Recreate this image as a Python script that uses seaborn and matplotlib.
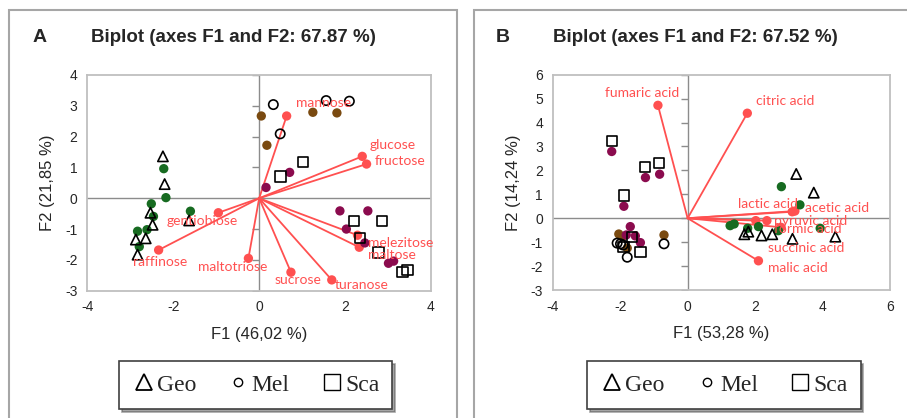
import numpy as np
import pandas as pd
import matplotlib
matplotlib.use('Agg')
import matplotlib.pyplot as plt
import seaborn as sns
from matplotlib.lines import Line2D
from matplotlib.patches import Rectangle

# ---- panel A : sugars ----
sugars = ['mannose', 'glucose', 'fructose', 'gentiobiose', 'raffinose',
          'maltotriose', 'sucrose', 'turanose', 'melezitose', 'maltose']
sugar_f1 = [0.64, 2.40, 2.50, -0.95, -2.34, -0.25, 0.74, 1.69, 2.29, 2.33]
sugar_f2 = [2.67, 1.36, 1.11, -0.47, -1.68, -1.95, -2.40, -2.65, -1.20, -1.59]

a_geo_f1 = [-2.22, -2.17, -2.51, -2.46, -2.61, -2.83, -2.79, -1.60]
a_geo_f2 = [0.96, 0.02, -0.18, -0.59, -1.02, -1.07, -1.57, -0.42]
a_geo_c_f1 = [-2.24, -2.20, -2.53, -2.48, -2.64, -2.87, -2.83, -1.63]
a_geo_c_f2 = [1.36, 0.46, -0.47, -0.86, -1.30, -1.34, -1.83, -0.72]
a_mel_f1 = [0.05, 0.18, 1.25, 1.81]
a_mel_f2 = [2.67, 1.72, 2.79, 2.77]
a_mel_c_f1 = [0.33, 0.49, 1.56, 2.10]
a_mel_c_f2 = [3.04, 2.09, 3.17, 3.15]
a_sca_f1 = [0.16, 0.71, 1.88, 2.53, 2.03, 2.46, 3.01, 3.13]
a_sca_f2 = [0.35, 0.84, -0.41, -0.41, -1.00, -1.45, -2.11, -2.04]
a_sca_c_f1 = [0.50, 1.02, 2.20, 2.86, 2.35, 2.78, 3.34, 3.45]
a_sca_c_f2 = [0.71, 1.18, -0.73, -0.73, -1.29, -1.76, -2.40, -2.32]

# ---- panel B : organic acids ----
acids = ['fumaric acid', 'citric acid', 'lactic acid', 'acetic acid',
         'pyruvic acid', 'formic acid', 'succinic acid', 'malic acid']
acid_f1 = [-0.88, 1.77, 3.10, 3.18, 2.35, 2.77, 2.02, 2.10]
acid_f2 = [4.72, 4.39, 0.27, 0.30, -0.10, -0.38, -0.10, -1.78]

b_geo_f1 = [2.78, 3.33, 1.26, 1.38, 2.10, 2.69, 3.93, 1.78]
b_geo_f2 = [1.32, 0.56, -0.31, -0.24, -0.35, -0.52, -0.42, -0.42]
b_geo_c_f1 = [3.22, 3.74, 1.68, 1.80, 2.19, 2.51, 3.11, 4.38]
b_geo_c_f2 = [1.85, 1.07, -0.67, -0.56, -0.72, -0.67, -0.86, -0.77]
b_mel_f1 = [-2.04, -1.94, -1.79, -0.70]
b_mel_f2 = [-0.66, -0.77, -1.25, -0.70]
b_mel_c_f1 = [-2.09, -1.99, -1.91, -1.79, -0.70]
b_mel_c_f2 = [-1.04, -1.07, -1.12, -1.63, -1.07]
b_sca_f1 = [-2.25, -1.89, -1.25, -0.83, -1.70, -1.55, -1.40, -1.82]
b_sca_f2 = [2.79, 0.50, 1.70, 1.84, -0.35, -0.74, -1.02, -0.70]
b_sca_c_f1 = [-2.25, -1.89, -1.26, -0.84, -1.65, -1.90, -1.40]
b_sca_c_f2 = [3.23, 0.95, 2.14, 2.30, -0.79, -1.19, -1.42]

# label anchors (left edge, vertical centre)
sugar_lab = {'mannose': (0.85, 3.08), 'glucose': (2.58, 1.74), 'fructose': (2.70, 1.22),
             'gentiobiose': (-2.15, -0.74), 'raffinose': (-2.94, -2.07),
             'maltotriose': (-1.43, -2.22), 'sucrose': (0.35, -2.66),
             'turanose': (1.75, -2.83), 'melezitose': (2.53, -1.45), 'maltose': (2.53, -1.85)}
acid_lab = {'fumaric acid': (-2.46, 5.25), 'citric acid': (2.02, 4.90),
            'lactic acid': (1.48, 0.60), 'acetic acid': (3.49, 0.43),
            'pyruvic acid': (2.57, -0.10), 'formic acid': (2.57, -0.43),
            'succinic acid': (2.37, -1.25), 'malic acid': (2.37, -2.10)}

RED = '#ff5050'
GREEN = '#176b21'
BROWN = '#7a4a10'
MAROON = '#8b0b4e'
GRAY = '#8c8c8c'

sns.set_style('white')
plt.rcParams['font.family'] = ['Liberation Sans', 'DejaVu Sans']
plt.rcParams['axes.unicode_minus'] = False


def obs_frame(parts):
    rows = []
    for kind, f1, f2 in parts:
        rows.append(pd.DataFrame({'F1': f1, 'F2': f2, 'kind': kind}))
    return pd.concat(rows, ignore_index=True)


def biplot(ax, obs, names, vf1, vf2, labels, xlim, ylim, xticks, yticks):
    ax.set_xlim(*xlim)
    ax.set_ylim(*ylim)
    ax.axhline(0, color=GRAY, lw=1, zorder=1)
    ax.axvline(0, color=GRAY, lw=1, zorder=1)
    ax.plot(np.zeros(len(yticks)), yticks, ls='', marker=0, ms=5, mew=1,
            color=GRAY, zorder=1)
    for x, y in zip(vf1, vf2):
        ax.plot([0, x], [0, y], color=RED, lw=1.3, zorder=2)
    sns.scatterplot(x=vf1, y=vf2, color=RED, s=45, edgecolor='none', ax=ax, zorder=3)
    for n in names:
        lx, ly = labels[n]
        ax.text(lx, ly, n, color=RED, fontsize=10, family='Lato',
                ha='left', va='center', zorder=5)

    fills = {'geo': GREEN, 'mel': BROWN, 'sca': MAROON}
    opens = {'geo_c': '^', 'mel_c': 'o', 'sca_c': 's'}
    for k, c in fills.items():
        d = obs[obs.kind == k]
        sns.scatterplot(data=d, x='F1', y='F2', color=c, s=45, edgecolor='none',
                        ax=ax, zorder=4)
    for k, m in opens.items():
        d = obs[obs.kind == k]
        sns.scatterplot(data=d, x='F1', y='F2', marker=m, s=55 if m != 'o' else 45,
                        facecolor='none', edgecolor='black', linewidth=1.2,
                        ax=ax, zorder=4)

    ax.set_xticks(xticks)
    ax.set_yticks(yticks)
    ax.tick_params(length=0, labelsize=10, pad=7)
    for s in ax.spines.values():
        s.set_color('#bfbfbf')
        s.set_linewidth(1.3)


fig = plt.figure(figsize=(9.07, 4.18), dpi=100)

# panel frames
for x0, x1 in [(9, 457), (474, 920)]:
    fig.add_artist(Rectangle((x0 / 907, -0.1), (x1 - x0) / 907, 1.1 - 10 / 418,
                             transform=fig.transFigure, fill=False,
                             edgecolor='#a6a6a6', lw=1.5))

axA = fig.add_axes([87.3 / 907, 1 - 290.7 / 418, (431 - 87.3) / 907, 215.7 / 418])
axB = fig.add_axes([552.7 / 907, 1 - 290 / 418, (890 - 552.7) / 907, 215.3 / 418])

obsA = obs_frame([('geo', a_geo_f1, a_geo_f2), ('geo_c', a_geo_c_f1, a_geo_c_f2),
                  ('mel', a_mel_f1, a_mel_f2), ('mel_c', a_mel_c_f1, a_mel_c_f2),
                  ('sca', a_sca_f1, a_sca_f2), ('sca_c', a_sca_c_f1, a_sca_c_f2)])
obsB = obs_frame([('geo', b_geo_f1, b_geo_f2), ('geo_c', b_geo_c_f1, b_geo_c_f2),
                  ('mel', b_mel_f1, b_mel_f2), ('mel_c', b_mel_c_f1, b_mel_c_f2),
                  ('sca', b_sca_f1, b_sca_f2), ('sca_c', b_sca_c_f1, b_sca_c_f2)])

biplot(axA, obsA, sugars, sugar_f1, sugar_f2, sugar_lab, (-4, 4), (-3, 4),
       [-4, -2, 0, 2, 4], [-3, -2, -1, 0, 1, 2, 3, 4])
biplot(axB, obsB, acids, acid_f1, acid_f2, acid_lab, (-4, 6), (-3, 6),
       [-4, -2, 0, 2, 4, 6], [-3, -2, -1, 0, 1, 2, 3, 4, 5, 6])

axA.set_xlabel('F1 (46,02 %)', fontsize=12, labelpad=9)
axA.set_ylabel('F2 (21,85 %)', fontsize=12, labelpad=7)
axB.set_xlabel('F1 (53,28 %)', fontsize=12, labelpad=9)
axB.set_ylabel('F2 (14,24 %)', fontsize=12, labelpad=7)

fig.text(40 / 907, 1 - 38 / 418, 'A', fontsize=14, fontweight='bold', va='center', ha='center')
fig.text(233 / 907, 1 - 38 / 418, 'Biplot (axes F1 and F2: 67.87 %)', fontsize=13.5,
         fontweight='bold', va='center', ha='center')
fig.text(503 / 907, 1 - 38 / 418, 'B', fontsize=14, fontweight='bold', va='center', ha='center')
fig.text(695 / 907, 1 - 38 / 418, 'Biplot (axes F1 and F2: 67.52 %)', fontsize=13.5,
         fontweight='bold', va='center', ha='center')

handles = [Line2D([], [], ls='', marker='^', mfc='none', mec='black', ms=12, mew=1.3),
           Line2D([], [], ls='', marker='o', mfc='none', mec='black', ms=6, mew=1),
           Line2D([], [], ls='', marker='s', mfc='none', mec='black', ms=11, mew=1)]
for cx in (255.5 / 907, 724 / 907):
    leg = fig.legend(handles, ['Geo', 'Mel', 'Sca'], loc='center',
                     bbox_to_anchor=(cx, 1 - 385 / 418), ncol=3, frameon=True,
                     fancybox=False, shadow=True, edgecolor='#404040',
                     prop={'family': 'Liberation Serif', 'size': 17},
                     handletextpad=0.05, columnspacing=1.3, handlelength=1.0,
                     borderpad=0.55, borderaxespad=0)
    leg.get_frame().set_linewidth(1.2)

fig.savefig('out.png', dpi=100)
